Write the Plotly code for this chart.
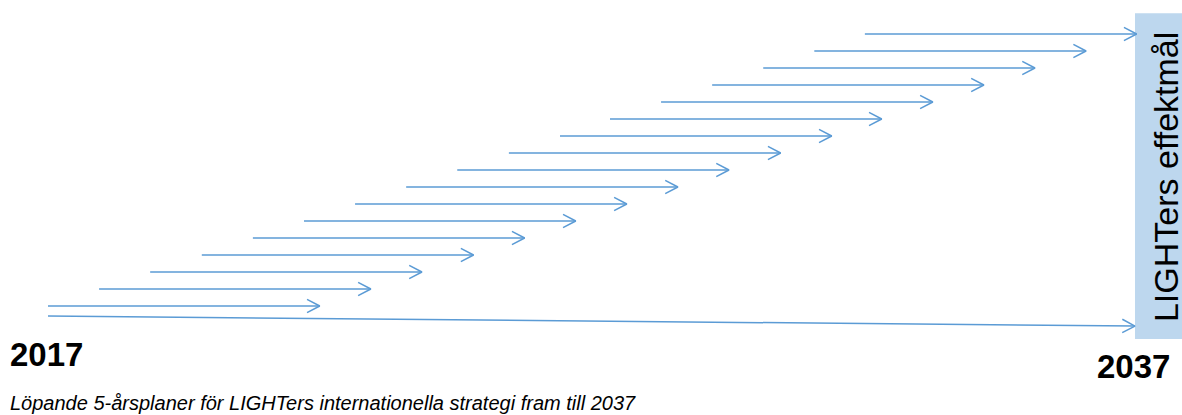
import math
import plotly.graph_objects as go

# ---- data ----
START_YEARS = [2017.00, 2017.94, 2018.88, 2019.83, 2020.77, 2021.71, 2022.65, 2023.59,
               2024.53, 2025.48, 2026.42, 2027.34, 2028.28, 2029.22, 2030.16, 2031.10, 2032.03]
PLAN_LENGTH = 5
ROWS = [1, 2, 3, 4, 5, 6, 7, 8, 9, 10, 11, 12, 13, 14, 15, 16, 17]
LONG_ARROW_X = [2017.0, 2037.0]
LONG_ARROW_Y = [0.41, -0.18]
LABEL_START = "2017"
LABEL_END = "2037"
BOX_TEXT = "LIGHTers effektmål"
CAPTION = "Löpande 5-årsplaner för LIGHTers internationella strategi fram till 2037"

BLUE = "#5B9BD5"
BOX_BLUE = "#BDD7EE"
FONT = "Arial, Liberation Sans, sans-serif"

W, H = 1182, 415
X_RANGE = [2016.117, 2037.865]
Y_RANGE = [-5.412, 19.0]
PX_X = W / (X_RANGE[1] - X_RANGE[0])
PX_Y = H / (Y_RANGE[1] - Y_RANGE[0])
HEAD_LEN_PX = 12.7
HEAD_HALF_PX = 6.7

# build arrow segments from the data
segments = [((s, r), (s + PLAN_LENGTH, r)) for s, r in zip(START_YEARS, ROWS)]
segments.append(((LONG_ARROW_X[0], LONG_ARROW_Y[0]), (LONG_ARROW_X[1], LONG_ARROW_Y[1])))

shaft_x, shaft_y, head_x, head_y = [], [], [], []
for (x0, y0), (x1, y1) in segments:
    shaft_x += [x0, x1, None]
    shaft_y += [y0, y1, None]
    # direction in pixel space
    dxp = (x1 - x0) * PX_X
    dyp = (y1 - y0) * PX_Y
    L = math.hypot(dxp, dyp)
    ux, uy = dxp / L, dyp / L
    nx, ny = -uy, ux
    pts = []
    for sgn in (1, -1):
        px = -ux * HEAD_LEN_PX + sgn * nx * HEAD_HALF_PX
        py = -uy * HEAD_LEN_PX + sgn * ny * HEAD_HALF_PX
        pts.append((x1 + px / PX_X, y1 + py / PX_Y))
    head_x += [pts[0][0], x1, pts[1][0], None]
    head_y += [pts[0][1], y1, pts[1][1], None]

fig = go.Figure()
fig.add_trace(go.Scatter(x=shaft_x, y=shaft_y, mode="lines",
                         line=dict(color=BLUE, width=1.5), hoverinfo="skip", showlegend=False))
fig.add_trace(go.Scatter(x=head_x, y=head_y, mode="lines",
                         line=dict(color=BLUE, width=1.5), hoverinfo="skip", showlegend=False))

annotations = [
    dict(x=0.0068, y=0.1446, xref="paper", yref="paper", xanchor="left", yanchor="middle",
         text="<b>" + LABEL_START + "</b>", showarrow=False,
         font=dict(family=FONT, size=33, color="black")),
    dict(x=0.9915, y=0.1157, xref="paper", yref="paper", xanchor="right", yanchor="middle",
         text="<b>" + LABEL_END + "</b>", showarrow=False,
         font=dict(family=FONT, size=33, color="black")),
    dict(x=0.0068, y=0.0289, xref="paper", yref="paper", xanchor="left", yanchor="middle",
         text="<i>" + CAPTION + "</i>", showarrow=False,
         font=dict(family=FONT, size=20, color="black")),
    dict(x=0.9865, y=0.5735, xref="paper", yref="paper", xanchor="center", yanchor="middle",
         text=BOX_TEXT, textangle=-90, showarrow=False,
         font=dict(family=FONT, size=34, color="black")),
]

fig.add_shape(type="rect", xref="x", yref="paper",
              x0=LONG_ARROW_X[1], x1=2037.9, y0=0.183, y1=0.968,
              fillcolor=BOX_BLUE, line=dict(width=0), layer="below")

fig.update_layout(
    width=W, height=H, autosize=False,
    margin=dict(l=0, r=0, t=0, b=0),
    paper_bgcolor="white", plot_bgcolor="white",
    xaxis=dict(range=X_RANGE, visible=False, fixedrange=True),
    yaxis=dict(range=Y_RANGE, visible=False, fixedrange=True),
    annotations=annotations,
    showlegend=False,
)

fig.write_html("out.html", config={"displayModeBar": False},
               post_script="document.body.style.margin='0';document.body.style.overflow='hidden';")
